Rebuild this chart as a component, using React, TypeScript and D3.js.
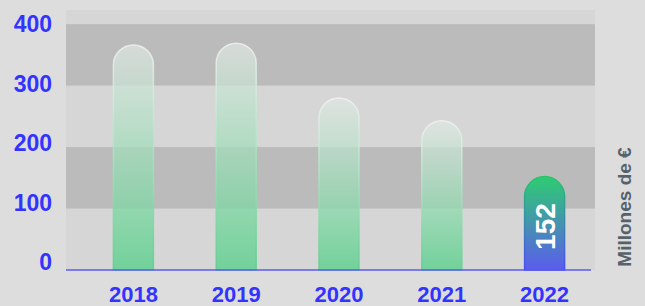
import React from "react";
import * as d3 from "d3";

const years = ["2018", "2019", "2020", "2021", "2022"];
const values = [366, 369, 280, 243, 152];
const yTicks = [0, 100, 200, 300, 400];
const darkBands = [[100, 200], [300, 400]];
const unitLabel = "Millones de €";

const W = 645, H = 306;
const font = "'Liberation Sans', Arial, sans-serif";

// rounded top, flat bottom
const pill = (x: number, top: number, w: number, bottom: number) => {
  const r = w / 2;
  const t = Math.min(top + r, bottom);
  return `M${x},${bottom}L${x},${t}A${r},${r} 0 0 1 ${x + w},${t}L${x + w},${bottom}Z`;
};

const App = () => {
  const plot = { left: 66, right: 595, top: 10, bottom: 270 };
  const y = d3.scaleLinear().domain([0, 423]).range([plot.bottom, plot.top]);
  const labelY = d3.scaleLinear().domain([0, 400]).range([y(0) - 8, y(400)]);
  const x = d3.scaleBand().domain(years).range([82, 596]).paddingInner(0.611).paddingOuter(0.3055);
  const bw = x.bandwidth();
  const last = years.length - 1;

  return (
    <svg width={W} height={H} style={{ position: "absolute", left: 0, top: 0, background: "#dddddd" }}>
      <defs>
        <linearGradient id="barFill" x1="0" y1="0" x2="0" y2="1">
          <stop offset="0%" stopColor="#e2e8e4" stopOpacity={0.7} />
          <stop offset="100%" stopColor="#59d08b" stopOpacity={0.8} />
        </linearGradient>
        <linearGradient id="barStroke" x1="0" y1="0" x2="0" y2="1">
          <stop offset="0%" stopColor="#f2f4f3" stopOpacity={0.8} />
          <stop offset="100%" stopColor="#5fcf8e" stopOpacity={0.9} />
        </linearGradient>
        <linearGradient id="lastFill" x1="0" y1="0" x2="0" y2="1">
          <stop offset="0%" stopColor="#2ecc71" />
          <stop offset="100%" stopColor="#5b5ced" />
        </linearGradient>
        <linearGradient id="lastStroke" x1="0" y1="0" x2="0" y2="1">
          <stop offset="0%" stopColor="#27c46a" />
          <stop offset="100%" stopColor="#4b4cf5" />
        </linearGradient>
      </defs>

      <rect x={plot.left} y={plot.top} width={plot.right - plot.left} height={plot.bottom - plot.top} fill="#d6d6d6" />
      {darkBands.map(([a, b]) => (
        <rect key={a} x={plot.left} y={y(b)} width={plot.right - plot.left} height={y(a) - y(b)} fill="#bbbbbb" />
      ))}

      {years.map((yr, i) => (
        <path
          key={yr}
          d={pill(x(yr)!, y(values[i]), bw, y(0))}
          fill={i === last ? "url(#lastFill)" : "url(#barFill)"}
          stroke={i === last ? "url(#lastStroke)" : "url(#barStroke)"}
          strokeWidth={1.5}
        />
      ))}

      <line x1={plot.left} x2={591} y1={y(0)} y2={y(0)} stroke="#5b5bef" strokeWidth={1.5} />

      {yTicks.map((t) => (
        <text key={t} x={52} y={labelY(t)} textAnchor="end" dominantBaseline="central"
          fill="#3333ff" fontFamily={font} fontWeight="bold" fontSize={23}>{t}</text>
      ))}

      {years.map((yr) => (
        <text key={yr} x={x(yr)! + bw / 2} y={302} textAnchor="middle"
          fill="#3333ff" fontFamily={font} fontWeight="bold" fontSize={22}>{yr}</text>
      ))}

      <text
        transform={`translate(${x(years[last])! + bw / 2 + 10},${y(values[last]) + 50}) rotate(-90)`}
        textAnchor="middle" fill="#ffffff" fontFamily={font} fontWeight="bold" fontSize={28}>
        {values[last]}
      </text>

      <text transform={`translate(631,207) rotate(-90)`} textAnchor="middle"
        fill="#56626b" fontFamily={font} fontWeight="bold" fontSize={19}>{unitLabel}</text>
    </svg>
  );
};

export default App;
